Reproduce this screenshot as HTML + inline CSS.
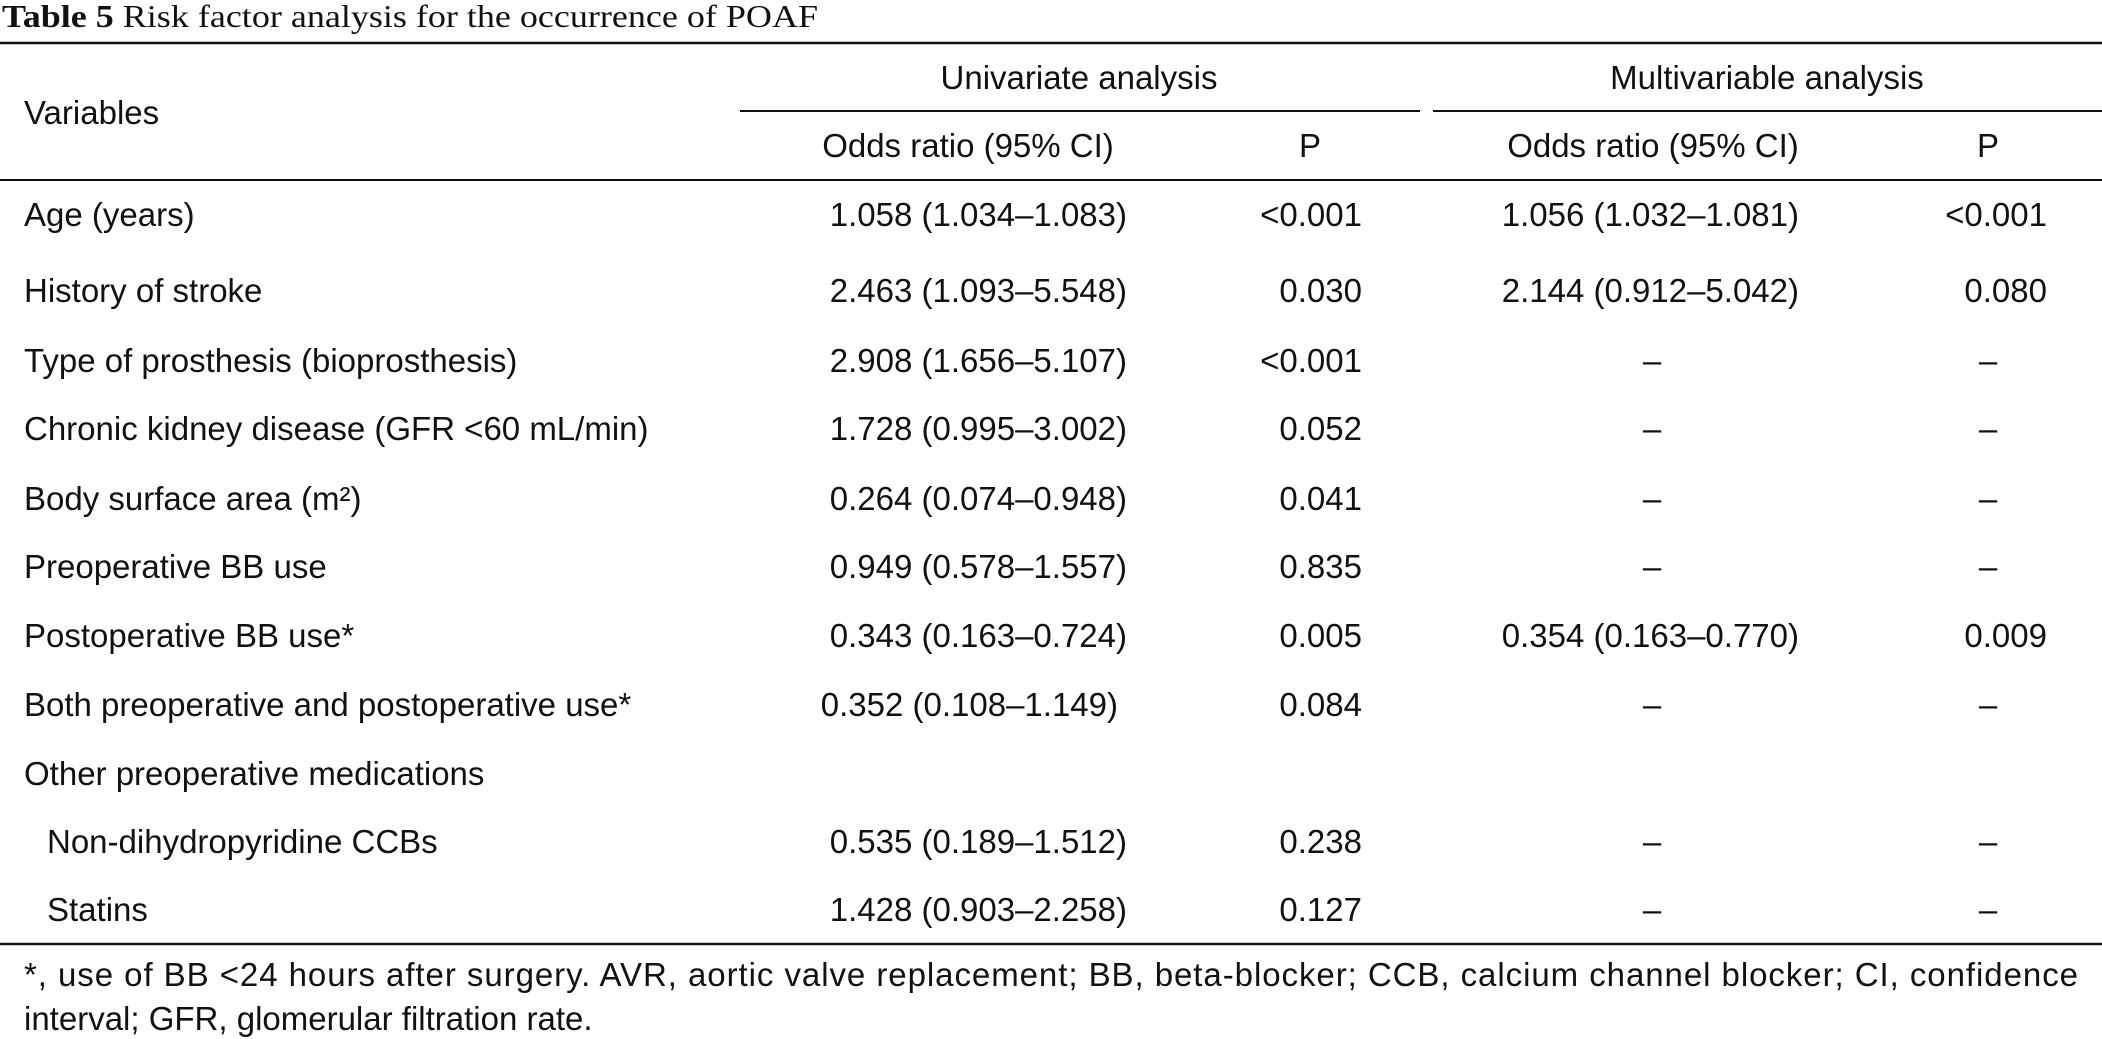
<!DOCTYPE html>
<html><head><meta charset="utf-8"><style>
html,body{margin:0;padding:0;background:#fff;}
svg{display:block;}
text{font-family:"Liberation Sans",Arial,sans-serif;font-size:33px;fill:#111;}
</style></head><body>
<svg width="2102" height="1039" viewBox="0 0 2102 1039">
<text x="2" y="27" style="font-family:'Liberation Serif',serif;font-size:32px" textLength="816" lengthAdjust="spacingAndGlyphs"><tspan font-weight="bold">Table 5</tspan> Risk factor analysis for the occurrence of POAF</text>
<line x1="0" y1="43" x2="2102" y2="43" stroke="#111" stroke-width="2.5"/>
<text x="24" y="124">Variables</text>
<text x="1079" y="89" text-anchor="middle">Univariate analysis</text>
<text x="1767" y="89" text-anchor="middle">Multivariable analysis</text>
<line x1="740" y1="111" x2="1420" y2="111" stroke="#111" stroke-width="2"/>
<line x1="1433" y1="111" x2="2102" y2="111" stroke="#111" stroke-width="2"/>
<text x="968" y="157" text-anchor="middle">Odds ratio (95% CI)</text>
<text x="1310" y="157" text-anchor="middle">P</text>
<text x="1653" y="157" text-anchor="middle">Odds ratio (95% CI)</text>
<text x="1988" y="157" text-anchor="middle">P</text>
<line x1="0" y1="180" x2="2102" y2="180" stroke="#111" stroke-width="2"/>
<g id="rows"></g>
<line x1="0" y1="944" x2="2102" y2="944" stroke="#111" stroke-width="2.5"/>
<text x="24" y="986" textLength="2054" lengthAdjust="spacing">*, use of BB &lt;24 hours after surgery. AVR, aortic valve replacement; BB, beta-blocker; CCB, calcium channel blocker; CI, confidence</text>
<text x="24" y="1030">interval; GFR, glomerular filtration rate.</text>
</svg>
<script>
const labels=["Age (years)","History of stroke","Type of prosthesis (bioprosthesis)","Chronic kidney disease (GFR <60 mL/min)","Body surface area (m²)","Preoperative BB use","Postoperative BB use*","Both preoperative and postoperative use*","Other preoperative medications","Non-dihydropyridine CCBs","Statins"];
const indent=[0,0,0,0,0,0,0,0,0,1,1];
const uniOR=["1.058 (1.034–1.083)","2.463 (1.093–5.548)","2.908 (1.656–5.107)","1.728 (0.995–3.002)","0.264 (0.074–0.948)","0.949 (0.578–1.557)","0.343 (0.163–0.724)","0.352 (0.108–1.149)","","0.535 (0.189–1.512)","1.428 (0.903–2.258)"];
const uniP=["<0.001","0.030","<0.001","0.052","0.041","0.835","0.005","0.084","","0.238","0.127"];
const multiOR=["1.056 (1.032–1.081)","2.144 (0.912–5.042)","–","–","–","–","0.354 (0.163–0.770)","–","","–","–"];
const multiP=["<0.001","0.080","–","–","–","–","0.009","–","","–","–"];
const rowY=[226,302,372,440,510,578,647,716,785,853,921];
const g=document.getElementById('rows');
const NS='http://www.w3.org/2000/svg';
function t(x,y,s,anchor,name){
  const e=document.createElementNS(NS,'text');
  e.setAttribute('x',x);e.setAttribute('y',y);e.setAttribute('text-anchor',anchor);
  e.textContent=s;
  
  
  g.appendChild(e);
}
labels.forEach((l,i)=>{
  const y=rowY[i];
  t(indent[i]?47:24,y,l,'start','row-label');
  if(uniOR[i]) t(i===7?1118:1127,y,uniOR[i],'end','univariate-odds-ratio');
  if(uniP[i]) t(1362,y,uniP[i],'end','univariate-p-value');
  if(multiOR[i]) multiOR[i]==='–'?t(1652,y,'–','middle','multivariable-odds-ratio'):t(1799,y,multiOR[i],'end','multivariable-odds-ratio');
  if(multiP[i]) multiP[i]==='–'?t(1988,y,'–','middle','multivariable-p-value'):t(2047,y,multiP[i],'end','multivariable-p-value');
});
</script>
</body></html>
